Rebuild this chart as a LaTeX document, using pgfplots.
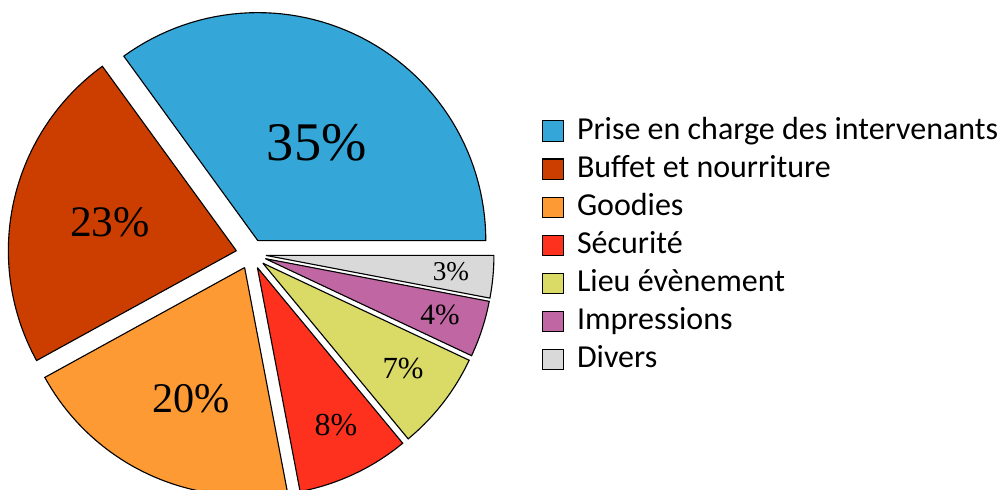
\documentclass[border=0pt]{standalone}
\usepackage{fontspec}
\setmainfont{Carlito}
\newfontfamily\numfont{Liberation Serif}
\usepackage{pgfplots}
\pgfplotsset{compat=1.18}
\definecolor{cblue}{RGB}{52,166,215}
\definecolor{cbrown}{RGB}{204,62,0}
\definecolor{corange}{RGB}{253,154,52}
\definecolor{cred}{RGB}{254,49,30}
\definecolor{cyellow}{RGB}{217,219,102}
\definecolor{cpink}{RGB}{192,102,162}
\definecolor{cgrey}{RGB}{217,217,217}
% #1 start (percent), #2 value (percent), #3 colour, #4 legend text
\newcommand\pieslice[4]{%
  \addplot[draw=black, line width=0.35pt, fill=#3, variable=\t, domain=0:62, samples=63]
  ({ifthenelse(or(\t<0.5,\t>61.5), 251+15*cos(3.6*(#1+#2/2)), 251+15*cos(3.6*(#1+#2/2))+228*cos(3.6*(#1+#2*(\t-1)/60)))},
   {ifthenelse(or(\t<0.5,\t>61.5), 236+15*sin(3.6*(#1+#2/2)), 236+15*sin(3.6*(#1+#2/2))+228*sin(3.6*(#1+#2*(\t-1)/60)))});
  \addlegendentry{#4}%
}
\begin{document}
\begin{tikzpicture}
\begin{axis}[
  x=0.3125pt, y=0.3125pt,
  xmin=0, xmax=1003, ymin=0, ymax=490,
  hide axis, clip=true,
  legend cell align=left,
  legend image code/.code={\draw[#1] (0pt,-3.2pt) rectangle (6.6pt,3.2pt);},
  legend style={at={(0.5394,0.780)}, anchor=north west, draw=none, fill=none,
    inner sep=0pt, row sep=-2.3pt, column sep=2.1pt,
    font=\fontsize{10.0}{12}\selectfont,
    nodes={text height=7.6pt, text depth=2.6pt}},
]
\pieslice{0}{35}{cblue}{Prise en charge des intervenants}
\pieslice{35}{23}{cbrown}{Buffet et nourriture}
\pieslice{58}{20}{corange}{Goodies}
\pieslice{78}{8}{cred}{Sécurité}
\pieslice{86}{7}{cyellow}{Lieu évènement}
\pieslice{93}{4}{cpink}{Impressions}
\pieslice{97}{3}{cgrey}{Divers}
\node[font=\numfont\fontsize{17.0}{20}\selectfont] at (axis cs:316.7,347) {35\%};
\node[font=\numfont\fontsize{13.6}{16}\selectfont] at (axis cs:110,268) {23\%};
\node[font=\numfont\fontsize{13.2}{16}\selectfont] at (axis cs:191,91) {20\%};
\node[font=\numfont\fontsize{10.0}{12}\selectfont] at (axis cs:336,65) {8\%};
\node[font=\numfont\fontsize{9.6}{12}\selectfont] at (axis cs:403,121) {7\%};
\node[font=\numfont\fontsize{9.2}{11}\selectfont] at (axis cs:440,175) {4\%};
\node[font=\numfont\fontsize{8.5}{10}\selectfont] at (axis cs:451,218) {3\%};
\end{axis}
\pgfresetboundingbox
\path (current axis.south west) rectangle (current axis.north east);
\end{tikzpicture}
\end{document}
